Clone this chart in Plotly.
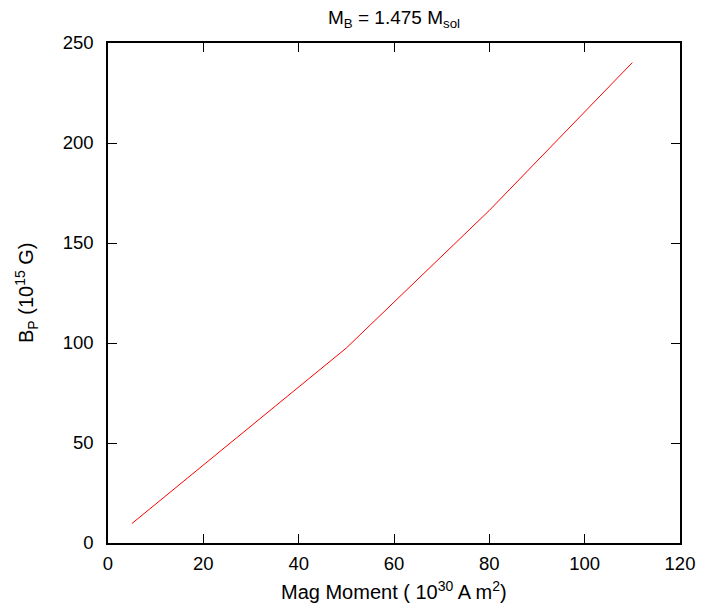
import plotly.graph_objects as go

# Polar field strength vs. magnetic moment for M_B = 1.475 M_sol
mag_moment = [5, 50, 80, 110]          # 10^30 A m^2
b_polar = [9.7, 97.5, 166.3, 240.2]    # 10^15 G

x_ticks = [0, 20, 40, 60, 80, 100, 120]
y_ticks = [0, 50, 100, 150, 200, 250]

FONT = "Liberation Sans, Arial, sans-serif"

fig = go.Figure()
fig.add_trace(go.Scatter(
    x=mag_moment, y=b_polar, mode="lines",
    line=dict(color="#ff0000", width=1),
    showlegend=False, hoverinfo="skip",
))

axis_common = dict(
    showgrid=False, zeroline=False,
    showline=True, linecolor="black", linewidth=1.5, mirror="ticks",
    ticks="inside", ticklen=9, tickwidth=1.3, tickcolor="black",
    tickfont=dict(family=FONT, size=18.5, color="black"),
)

fig.update_xaxes(range=[0, 120], tickvals=x_ticks, ticklabelstandoff=3,
                 **axis_common)
fig.update_yaxes(range=[0, 250], tickvals=y_ticks, ticklabelstandoff=9,
                 **axis_common)

fig.update_layout(
    width=707, height=608,
    margin=dict(l=108, r=21, t=43, b=65),
    plot_bgcolor="white", paper_bgcolor="white",
    font=dict(family=FONT, color="black"),
    annotations=[
        dict(text="M<sub>B</sub> = 1.475 M<sub>sol</sub>",
             xref="paper", yref="paper", x=0.5, y=1.0, yshift=24,
             xanchor="center", yanchor="middle", showarrow=False,
             font=dict(family=FONT, size=19)),
        dict(text="Mag Moment ( 10<sup>30</sup> A m<sup>2</sup>)",
             xref="paper", yref="paper", x=0.5, y=0.0, yshift=-47,
             xanchor="center", yanchor="middle", showarrow=False,
             font=dict(family=FONT, size=20)),
        dict(text="B<sub>P</sub> (10<sup>15</sup> G)",
             xref="paper", yref="paper", x=0.0, y=0.5, xshift=-82,
             xanchor="center", yanchor="middle", showarrow=False,
             textangle=-90, font=dict(family=FONT, size=20)),
    ],
)

fig.write_html("out.html")
